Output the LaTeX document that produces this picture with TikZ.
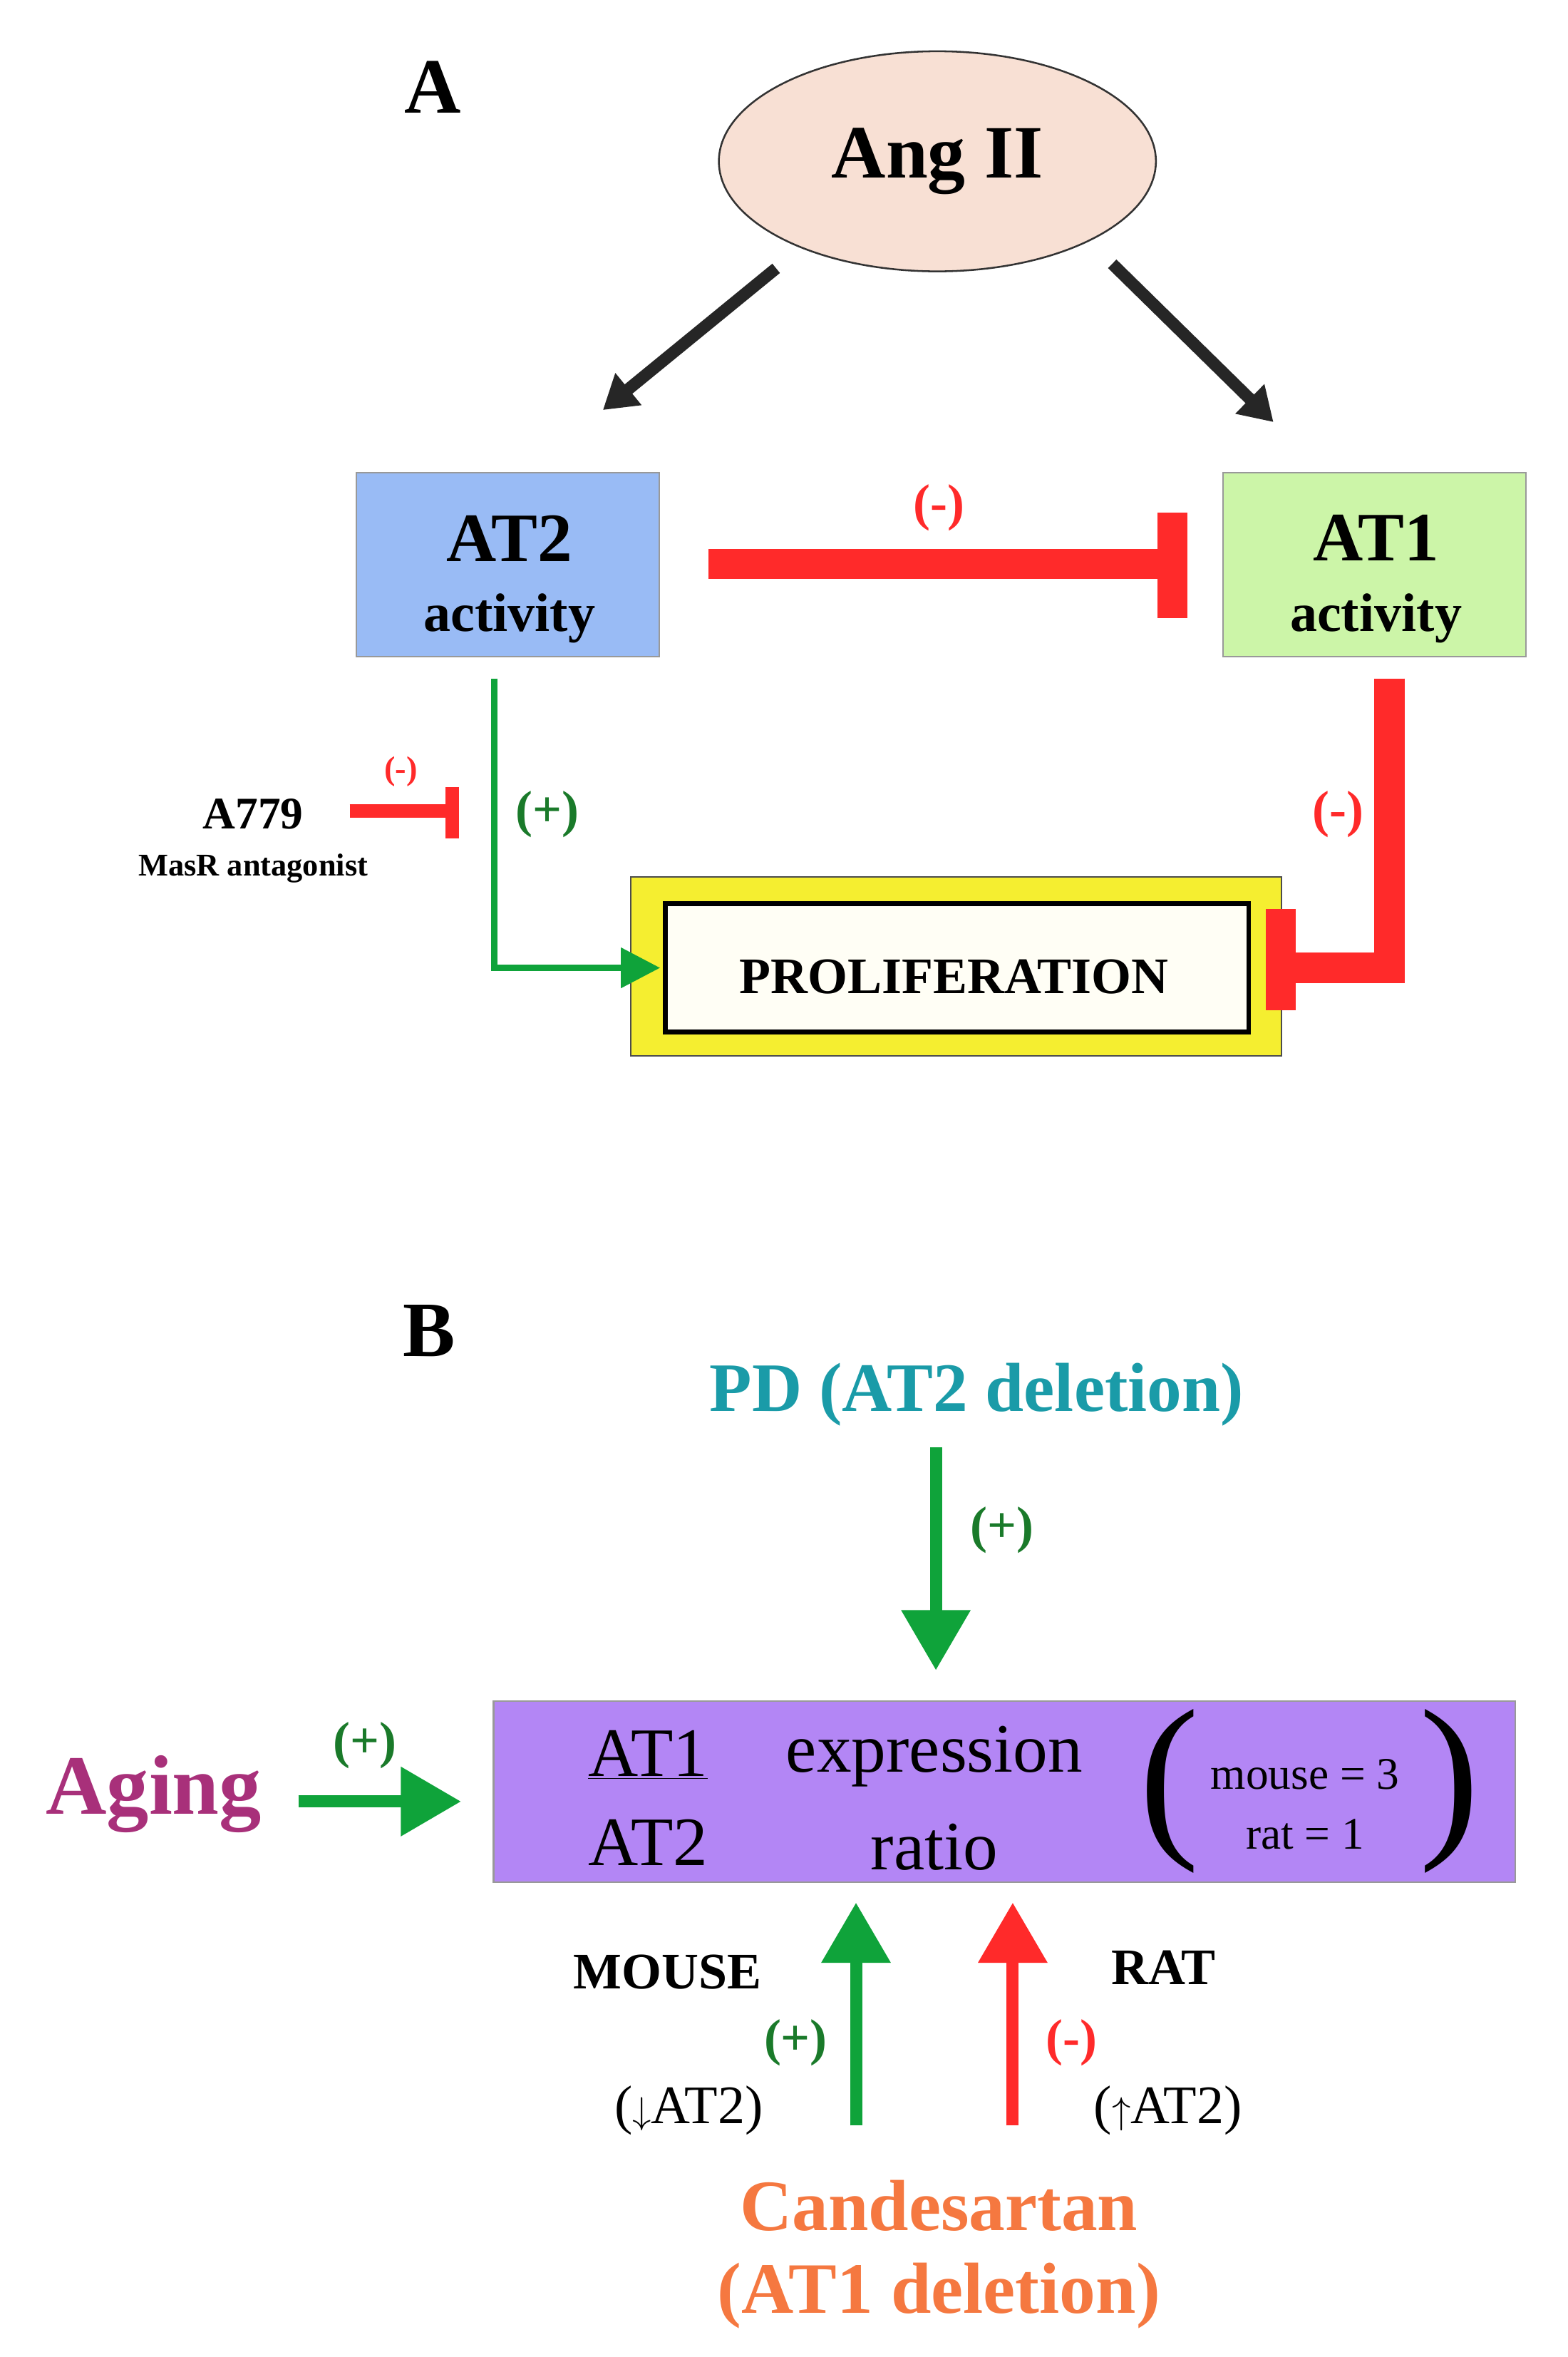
\documentclass[tikz,border=0pt]{standalone}
\usepackage{fontspec}
\setmainfont{Liberation Serif}
\usetikzlibrary{arrows.meta,shapes.geometric}
\definecolor{peach}{HTML}{F8E0D4}
\definecolor{bluebox}{HTML}{99BBF5}
\definecolor{greenbox}{HTML}{CCF5A8}
\definecolor{inhred}{HTML}{FF2A2A}
\definecolor{actgreen}{HTML}{0FA33A}
\definecolor{dkgreen}{HTML}{1A7A2A}
\definecolor{yellowbox}{HTML}{F5EE30}
\definecolor{purplebox}{HTML}{B386F5}
\definecolor{teal}{HTML}{1A9BA8}
\definecolor{magent}{HTML}{A8307A}
\definecolor{orng}{HTML}{F57840}
\newcommand{\fs}[1]{\fontsize{#1}{#1}\selectfont}
\begin{document}
\begin{tikzpicture}[x=1pt,y=-1pt,
  box/.style={draw=gray!80,line width=1pt,anchor=north west,inner sep=0},
  lbl/.style={font=\bfseries\fs{34}},
  blk/.style={draw=black!85,line width=8pt,-{Triangle[length=22pt,width=26pt]}}]
\useasboundingbox (0,0) rectangle (1040,1563.5);
\node[lbl,font=\bfseries\fs{52}] (A) at (287,58) {A};
\node[ellipse,draw=black!80,line width=1.2pt,fill=peach,minimum width=290pt,minimum height=146pt,font=\bfseries\fs{50}] (ang) at (622,107) {Ang II};
\coordinate (a1s) at (515,178); \coordinate (a1e) at (400,272);
\coordinate (a2s) at (738,175); \coordinate (a2e) at (845,280);
\draw[blk] (a1s) -- (a1e);
\draw[blk] (a2s) -- (a2e);
\node[box,fill=bluebox,minimum width=201pt,minimum height=122pt] (at2) at (236,313) {};
\node[font=\bfseries\fs{46}] (at2t) at (338,357) {AT2};
\node[font=\bfseries\fs{36}] (at2a) at (338,410) {activity};
\node[box,fill=greenbox,minimum width=201pt,minimum height=122pt] (at1) at (811,313) {};
\node[font=\bfseries\fs{46}] (at1t) at (913,357) {AT1};
\node[font=\bfseries\fs{36}] (at1a) at (913,410) {activity};
\coordinate (r1s) at (470,374); \coordinate (r1e) at (778,374);
\draw[inhred,line width=20pt] (r1s) -- (r1e);
\draw[inhred,line width=20pt] (778,340) -- (778,410);
\node[text=inhred,font=\bfseries\fs{34}] (m1) at (623,337) {(-)};
% proliferation
\node[box,draw=black!70,fill=yellowbox,minimum width=432pt,minimum height=119pt] (prolo) at (418,581) {};
\node[box,draw=black,line width=3pt,fill=white!96!yellow,minimum width=387pt,minimum height=85pt] (proli) at (440,598) {};
\node[font=\bfseries\fs{34}] (prol) at (633,648) {PROLIFERATION};
\coordinate (g1s) at (328,450); \coordinate (g1e) at (438,642);
\draw[actgreen,line width=4pt,-{Triangle[length=26pt,width=26pt]}] (g1s) |- (g1e);
\node[text=dkgreen,font=\bfseries\fs{34}] (p1) at (363,540) {(+)};
\node[font=\bfseries\fs{30}] (a779) at (168,540) {A779};
\node[font=\bfseries\fs{21}] (masr) at (168,576) {MasR antagonist};
\coordinate (r2s) at (232,538); \coordinate (r2e) at (300,538);
\draw[inhred,line width=9pt] (r2s) -- (r2e);
\draw[inhred,line width=9pt] (300,522) -- (300,556);
\node[text=inhred,font=\bfseries\fs{22}] (m2) at (266,512) {(-)};
\coordinate (r3s) at (922,450); \coordinate (r3e) at (853,642);
\draw[inhred,line width=20pt] (r3s) |- (r3e);
\draw[inhred,line width=20pt] (850,603) -- (850,670);
\node[text=inhred,font=\bfseries\fs{34}] (m3) at (888,540) {(-)};
% B
\node[font=\bfseries\fs{52}] (B) at (285,883) {B};
\node[text=teal,font=\bfseries\fs{46}] (pd) at (648,925) {PD (AT2 deletion)};
\coordinate (g2s) at (621,960); \coordinate (g2e) at (621,1108);
\draw[actgreen,line width=8pt,-{Triangle[length=40pt,width=44pt]}] (g2s) -- (g2e);
\node[text=dkgreen,font=\bfseries\fs{34}] (p2) at (665,1015) {(+)};
\node[box,fill=purplebox,minimum width=678pt,minimum height=120pt] (ratio) at (327,1128) {};
\node[font=\fs{46}] (t1) at (430,1164) {\underline{AT1}};
\node[font=\fs{46}] (t2) at (430,1222) {AT2};
\node[font=\fs{46}] (ex) at (620,1165) {expression};
\node[font=\fs{46}] (ra) at (620,1225) {ratio};
\node[font=\fs{120}] (lp) at (776,1188) {(};
\node[font=\fs{120}] (rp) at (962,1188) {)};
\node[font=\fs{30}] (ms) at (866,1177) {mouse = 3};
\node[font=\fs{30}] (rt) at (866,1217) {rat = 1};
\node[text=magent,font=\bfseries\fs{56}] (aging) at (102,1190) {Aging};
\coordinate (g3s) at (198,1195); \coordinate (g3e) at (306,1195);
\draw[actgreen,line width=8pt,-{Triangle[length=40pt,width=44pt]}] (g3s) -- (g3e);
\node[text=dkgreen,font=\bfseries\fs{34}] (p3) at (242,1158) {(+)};
\coordinate (g4s) at (568,1410); \coordinate (g4e) at (568,1262);
\draw[actgreen,line width=8pt,-{Triangle[length=40pt,width=44pt]}] (g4s) -- (g4e);
\coordinate (r4s) at (672,1410); \coordinate (r4e) at (672,1262);
\draw[inhred,line width=8pt,-{Triangle[length=40pt,width=44pt]}] (r4s) -- (r4e);
\node[font=\bfseries\fs{34}] (mouse) at (443,1308) {MOUSE};
\node[text=dkgreen,font=\bfseries\fs{34}] (p4) at (528,1355) {(+)};
\node[font=\fs{36}] (dn) at (457,1400) {($\downarrow$AT2)};
\node[font=\bfseries\fs{34}] (rat) at (772,1305) {RAT};
\node[text=inhred,font=\bfseries\fs{34}] (m4) at (711,1355) {(-)};
\node[font=\fs{36}] (up) at (775,1400) {($\uparrow$AT2)};
\node[text=orng,font=\bfseries\fs{48}] (cand) at (623,1463) {Candesartan};
\node[text=orng,font=\bfseries\fs{48}] (cand2) at (623,1523) {(AT1 deletion)};
\end{tikzpicture}
\end{document}
